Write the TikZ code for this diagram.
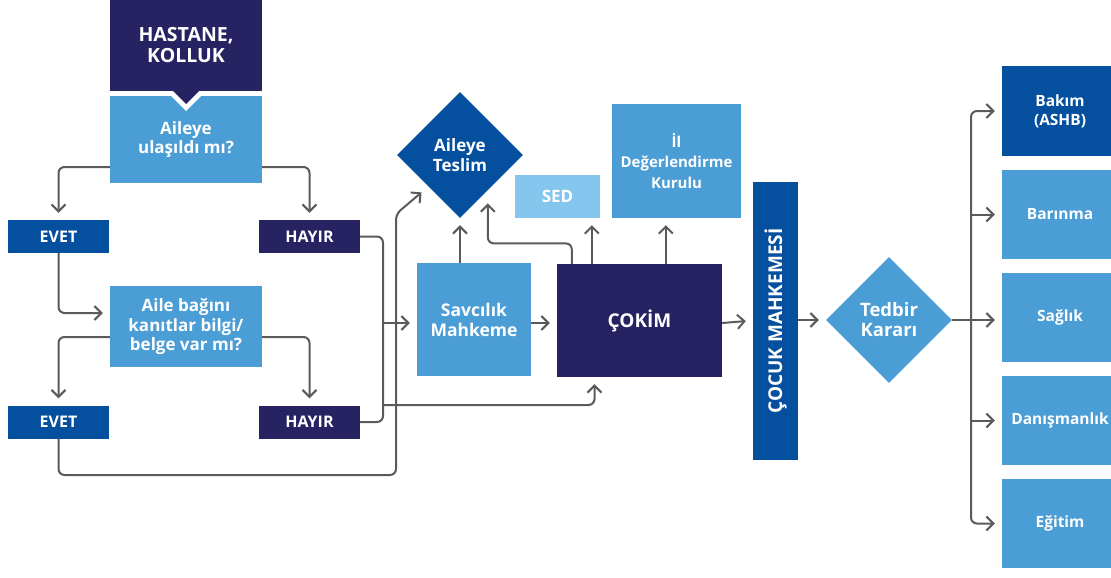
\documentclass[tikz,border=0pt]{standalone}
\usepackage{fontspec}
\setmainfont{Open Sans}
\usepackage{tikz}
\usetikzlibrary{calc,arrows.meta,positioning,shapes.geometric}
\definecolor{navy}{RGB}{39,34,98}
\definecolor{darkblue}{RGB}{5,80,158}
\definecolor{midblue}{RGB}{75,157,213}
\definecolor{lightblue}{RGB}{133,198,238}
\definecolor{linegrey}{RGB}{90,90,90}

\begin{document}
\begin{tikzpicture}[x=1pt,y=-1pt]

\tikzset{box/.style={font=\bfseries\fontsize{17}{19.5}\selectfont,text=white,inner sep=0pt,align=center},
answer/.style={box,font=\bfseries\fontsize{16}{19}\selectfont,minimum width=101,minimum height=33},
rhs/.style={box,fill=midblue,font=\bfseries\fontsize{15.5}{19}\selectfont,minimum width=116,minimum height=89},
decision/.style={box,shape=diamond,aspect=1,minimum size=126},
line/.style={draw=linegrey,line width=2pt,rounded corners=6pt},
arr/.style={line,-{Straight Barb[length=7pt,width=14pt,line width=2pt]},shorten >=7pt}}

\useasboundingbox (0,0) rectangle (1111,578);

% Left column
\node[box,fill=navy,minimum width=152,minimum height=91,font=\bfseries\fontsize{19.5}{20.5}\selectfont] (hastane) at (186,45) {HASTANE,\\KOLLUK};
\node[box,fill=midblue,minimum width=152,minimum height=87] (ulasildi) at (186,139.5) {Aileye\\ulaşıldı mı?};
\fill[white] (166,91) -- (206,91) -- (186,111) -- cycle;
\fill[navy] (172,90) -- (200,90) -- (186,104) -- cycle;
\node[answer,fill=darkblue] (evet1) at (58.5,236.5) {EVET};
\node[answer,fill=navy] (hayir1) at (309.5,236.5) {HAYIR};
\node[box,fill=midblue,minimum width=152,minimum height=81] (bag) at (186,326.5) {Aile bağını\\kanıtlar bilgi/\\belge var mı?};
\node[answer,fill=darkblue] (evet2) at (58.5,422) {EVET};
\node[answer,fill=navy] (hayir2) at (309.5,422) {HAYIR};

% Middle
\node[box,fill=midblue,minimum width=114,minimum height=113,font=\bfseries\fontsize{17.5}{20}\selectfont] (savcilik) at (474,319.5) {Savcılık\\Mahkeme};
\node[box,fill=navy,minimum width=165,minimum height=113,font=\bfseries\fontsize{19}{21}\selectfont] (cokim) at (639.5,320.5) {ÇOKİM};
\node[decision,fill=darkblue,font=\bfseries\fontsize{17}{20}\selectfont] (teslim) at (460,155) {Aileye\\Teslim};
\node[box,fill=lightblue,minimum width=85,minimum height=43] (sed) at (557.5,196.5) {SED};
\node[box,fill=midblue,minimum width=129,minimum height=114,font=\bfseries\fontsize{15}{20.5}\selectfont] (kurul) at (676.5,161) {İl\\Değerlendirme\\Kurulu};
\node[box,fill=darkblue,rotate=90,minimum width=278,minimum height=45,font=\bfseries\fontsize{19}{21}\selectfont] (mahkeme) at (775.5,321) {ÇOCUK MAHKEMESİ};
\node[decision,fill=midblue,font=\bfseries\fontsize{18.5}{20}\selectfont] (tedbir) at (889,320) {Tedbir\\Kararı};

% Right column
\node[rhs,fill=darkblue,minimum height=90] (bakim) at (1060,111) {Bakım\\(ASHB)};
\node[rhs] (barinma) at (1060,214.5) {Barınma};
\node[rhs] (saglik) at (1060,317.5) {Sağlık};
\node[rhs] (danisman) at (1060,420.5) {Danışmanlık};
\node[rhs] (egitim) at (1060,523.5) {Eğitim};

% Bus coordinates
\coordinate (bus) at (383,323);
\coordinate (bus2) at (383,405);
\coordinate (rbus) at (971,320);
\coordinate (tes-se) at ($(teslim.south)!0.44!(teslim.east)$);

% Edges
\draw[arr] ([yshift=-27.5pt]ulasildi.west) -| (evet1.north);
\draw[arr] ([yshift=-27.5pt]ulasildi.east) -| (hayir1.north);
\draw[arr] (evet1.south) |- ([yshift=13.5pt]bag.west);
\draw[arr] ([yshift=-10.5pt]bag.west) -| (evet2.north);
\draw[arr] ([yshift=-10.5pt]bag.east) -| (hayir2.north);
\draw[line] (hayir1.east) -| (bus) |- (hayir2.east);
\draw[arr] (bus) -- (bus -| savcilik.west);
\draw[arr] (bus2) -| ([xshift=-45pt]cokim.south);
\draw[arr,shorten >=9pt] (evet2.south) |- (396,475) -- (396,214) -- (teslim.south west);
\draw[arr] (teslim.south |- savcilik.north) -- (teslim.south);
\draw[arr,shorten >=13pt] ([xshift=15pt]cokim.north west) |- ([yshift=-53pt]tes-se) -- (tes-se);
\draw[arr] ([xshift=35pt]cokim.north west) -- ([xshift=35pt]cokim.north west |- sed.south);
\draw[arr] ([xshift=109pt]cokim.north west) -- ([xshift=109pt]cokim.north west |- kurul.south);
\draw[arr] (savcilik.east |- bus) -- (cokim.west |- bus);
\draw[arr] (cokim.east |- bus) -- (cokim.east -| mahkeme.north);
\draw[arr] (mahkeme.south |- tedbir.west) -- (tedbir.west);
\draw[arr] (tedbir.east) -- (tedbir.east -| saglik.west);
\draw[arr] (rbus) |- (bakim.west);
\draw[arr] (rbus) |- (egitim.west);
\draw[arr] (barinma.west -| rbus) -- (barinma.west);
\draw[arr] (danisman.west -| rbus) -- (danisman.west);

\end{tikzpicture}
\end{document}
